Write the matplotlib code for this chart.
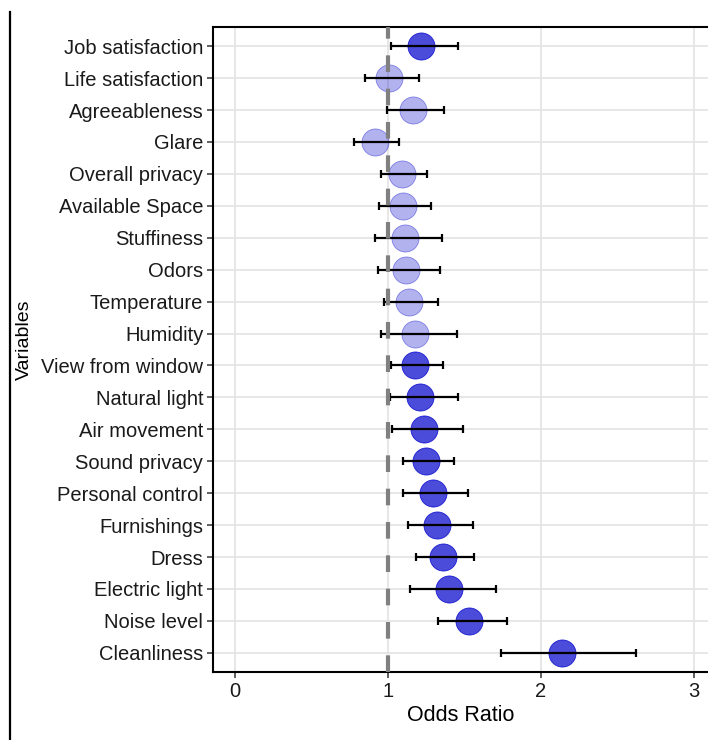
import matplotlib
matplotlib.use("Agg")
import matplotlib.pyplot as plt
from matplotlib.lines import Line2D

plt.rcParams['font.family'] = ['Liberation Sans', 'DejaVu Sans']

variables = ["Job satisfaction", "Life satisfaction", "Agreeableness", "Glare",
             "Overall privacy", "Available Space", "Stuffiness", "Odors",
             "Temperature", "Humidity", "View from window", "Natural light",
             "Air movement", "Sound privacy", "Personal control", "Furnishings",
             "Dress", "Electric light", "Noise level", "Cleanliness"]
odds_ratio = [1.216, 1.007, 1.163, 0.915, 1.092, 1.098, 1.111, 1.118, 1.137, 1.176,
              1.176, 1.209, 1.235, 1.248, 1.294, 1.320, 1.359, 1.399, 1.529, 2.137]
ci_low = [1.020, 0.850, 0.993, 0.778, 0.954, 0.941, 0.915, 0.935, 0.974, 0.954,
          1.018, 1.013, 1.026, 1.098, 1.098, 1.131, 1.183, 1.144, 1.327, 1.739]
ci_high = [1.458, 1.203, 1.366, 1.072, 1.255, 1.281, 1.353, 1.340, 1.327, 1.451,
           1.359, 1.458, 1.490, 1.431, 1.523, 1.556, 1.562, 1.706, 1.778, 2.621]
x_ticks = [0, 1, 2, 3]

W, H = 708, 740
fig = plt.figure(figsize=(W / 100, H / 100), dpi=100)
ax = fig.add_axes([213 / W, (H - 672) / H, 1 - 213 / W, (672 - 27) / H])

n = len(variables)
ypos = [n - 1 - i for i in range(n)]

ax.set_xlim(-0.144, 3.092)
ax.set_ylim(-0.6, n - 1 + 0.6)
ax.set_axisbelow(True)
ax.grid(True, color='#e5e5e5', linewidth=1.3)

base = (0 / 255, 0 / 255, 205 / 255)
for i in range(n):
    sig = ci_low[i] > 1 or ci_high[i] < 1
    a = 0.7 if sig else 0.3
    ax.plot(odds_ratio[i], ypos[i], 'o', markersize=19.5,
            markerfacecolor=base + (a,), markeredgecolor=base + (min(1, a + 0.1),),
            markeredgewidth=0.6, zorder=3)

ax.errorbar(odds_ratio, ypos,
            xerr=[[o - l for o, l in zip(odds_ratio, ci_low)],
                  [h - o for o, h in zip(odds_ratio, ci_high)]],
            fmt='none', ecolor='black', elinewidth=1.6, capsize=3.2,
            capthick=1.6, zorder=4)

ax.axvline(1, color='#808080', linewidth=3, linestyle=(0, (4, 4)), zorder=5)

ax.set_xticks(x_ticks)
ax.set_xticklabels([str(t) for t in x_ticks])
ax.set_yticks(ypos)
ax.set_yticklabels(variables)
ax.tick_params(axis='both', labelsize=14.5, length=4, width=1.1,
               color='#333333', labelcolor='#1a1a1a', pad=3)

for s in ['left', 'bottom', 'top']:
    ax.spines[s].set_linewidth(1.5)
    ax.spines[s].set_color('black')
ax.spines['right'].set_visible(False)

ax.set_xlabel("Odds Ratio", fontsize=15.5, labelpad=3)

fig.text(24.5 / W, 1 - 340 / H, "Variables", rotation=90, ha='center', va='center',
         fontsize=14, color='black')

fig.add_artist(Line2D([9.5 / W, 9.5 / W], [0, 1 - 12 / H], color='black',
                      linewidth=1.6, transform=fig.transFigure))

fig.savefig("out.png", dpi=100)
